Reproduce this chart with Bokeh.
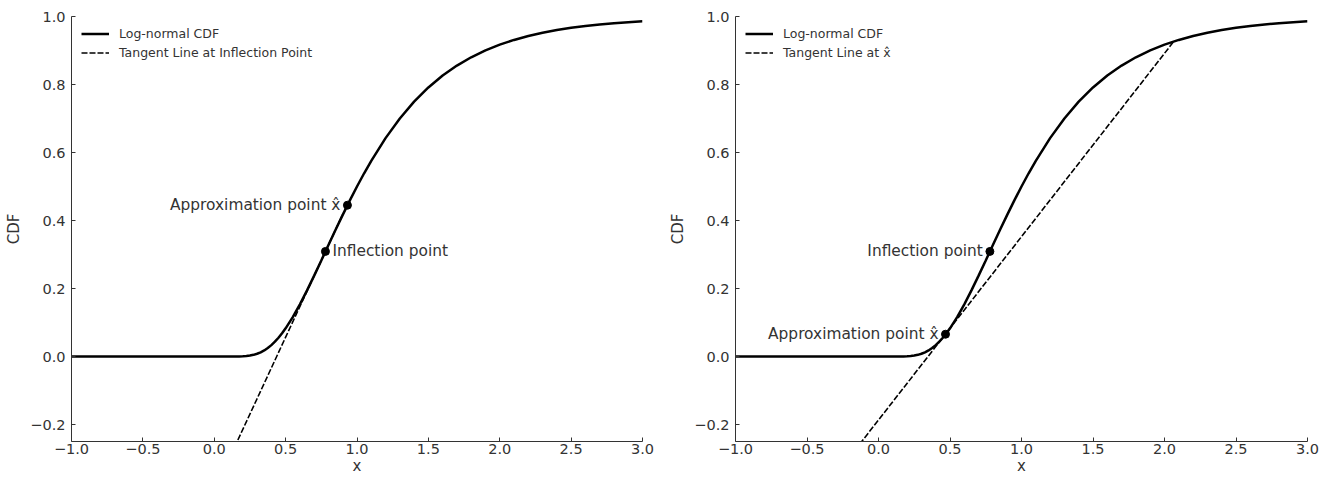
from bokeh.plotting import figure
from bokeh.layouts import row
from bokeh.models import (Legend, LegendItem, Range1d, SingleIntervalTicker,
                          CustomJSTickFormatter)
from bokeh.core.properties import value
from bokeh.embed import file_html
from bokeh.resources import INLINE

# ---- data ----
cdf_x = [-1.0, 0.0, 0.1, 0.15, 0.175, 0.2, 0.225, 0.25, 0.275, 0.3, 0.325, 0.35, 0.375,
         0.4, 0.425, 0.45, 0.475, 0.5, 0.55, 0.6, 0.65, 0.7, 0.75, 0.8, 0.85, 0.9, 0.95,
         1.0, 1.05, 1.1, 1.2, 1.3, 1.4, 1.5, 1.6, 1.7, 1.8, 1.9, 2.0, 2.1, 2.2, 2.3,
         2.4, 2.5, 2.6, 2.7, 2.8, 2.9, 3.0]
cdf_y = [0.0, 0.0, 0.0, 0.00007, 0.00025, 0.00064, 0.00143, 0.00278, 0.00491, 0.00802,
         0.01229, 0.01788, 0.0249, 0.0334, 0.0435, 0.0551, 0.0683, 0.0829, 0.1159, 0.1535,
         0.1944, 0.2379, 0.2826, 0.3278, 0.3726, 0.4166, 0.4591, 0.5, 0.5389, 0.5756,
         0.6423, 0.7001, 0.7495, 0.7913, 0.8264, 0.8557, 0.8801, 0.9004, 0.9172, 0.9311,
         0.9426, 0.9521, 0.9600, 0.9666, 0.9720, 0.9765, 0.9803, 0.9834, 0.9860]

inflection_x = [0.779]
inflection_y = [0.309]

approx_left_x = [0.933]
approx_left_y = [0.445]
approx_right_x = [0.4685]
approx_right_y = [0.0655]

tangent_left_x = [0.0, 0.9]
tangent_left_y = [-0.395, 0.418]
tangent_right_x = [-1.13, 2.06]
tangent_right_y = [-0.796, 0.924]

legend_left = ["Log-normal CDF", "Tangent Line at Inflection Point"]
legend_right = ["Log-normal CDF", "Tangent Line at x\u0302"]
x_label = "x"
y_label = "CDF"

FONT = "DejaVu Sans"
TXT = "#333333"

FMT_JS = "return tick.toFixed(1).replace('-', '\\u2212');"


def make_panel(tan_x, tan_y, ax_, ay_, labels, annotations, min_left, min_right, width):
    p = figure(width=width, height=481, output_backend="svg", toolbar_location=None,
               x_range=Range1d(-1.0, 3.0), y_range=Range1d(-0.25, 1.0),
               min_border_left=min_left, min_border_right=min_right,
               min_border_top=16, min_border_bottom=40)
    p.outline_line_color = None
    p.grid.visible = False
    p.background_fill_color = "white"

    r_cdf = p.line(cdf_x, cdf_y, line_color="black", line_width=2.5)
    r_tan = p.line(tan_x, tan_y, line_color="black", line_width=1.6, line_dash="6 2")
    p.scatter(inflection_x + ax_, inflection_y + ay_, size=8, color="black")

    for (tx, ty, txt, align, off) in annotations:
        p.text(x=[tx], y=[ty], text=[txt], text_align=align, text_baseline="middle",
               x_offset=off, text_font=value(FONT), text_font_size="15.4px", text_color=TXT)

    p.xaxis.ticker = SingleIntervalTicker(interval=0.5)
    p.yaxis.ticker = SingleIntervalTicker(interval=0.2)
    for ax in (p.xaxis[0], p.yaxis[0]):
        ax.formatter = CustomJSTickFormatter(code=FMT_JS)
        ax.major_tick_in = 4
        ax.major_tick_out = 0
        ax.minor_tick_in = 0
        ax.minor_tick_out = 0
        ax.axis_line_color = TXT
        ax.major_tick_line_color = TXT
        ax.axis_line_width = 1
        ax.major_label_text_font = FONT
        ax.major_label_text_font_size = "14.5px"
        ax.major_label_text_color = TXT
        ax.axis_label_text_font = FONT
        ax.axis_label_text_font_size = "15px"
        ax.axis_label_text_font_style = "normal"
        ax.axis_label_text_color = TXT
    p.xaxis.axis_label = x_label
    p.yaxis.axis_label = y_label
    p.xaxis.major_label_standoff = 2
    p.xaxis.axis_label_standoff = 0
    p.yaxis.major_label_standoff = 6
    p.yaxis.axis_label_standoff = 4

    legend = Legend(items=[LegendItem(label=labels[0], renderers=[r_cdf]),
                           LegendItem(label=labels[1], renderers=[r_tan])],
                    location="top_left")
    legend.background_fill_alpha = 0
    legend.border_line_color = None
    legend.margin = 10
    legend.padding = 0
    legend.spacing = 4
    legend.glyph_width = 28
    legend.glyph_height = 15
    legend.label_standoff = 10
    legend.label_text_font = FONT
    legend.label_text_font_size = "12.5px"
    legend.label_text_color = TXT
    legend.label_text_baseline = "middle"
    p.add_layout(legend, "center")
    return p


p1 = make_panel(tangent_left_x, tangent_left_y, approx_left_x, approx_left_y, legend_left,
                [(approx_left_x[0], approx_left_y[0], "Approximation point x\u0302", "right", -7),
                 (inflection_x[0], inflection_y[0], "Inflection point", "left", 7)],
                71, 23, 71 + 571 + 23)
p2 = make_panel(tangent_right_x, tangent_right_y, approx_right_x, approx_right_y, legend_right,
                [(inflection_x[0], inflection_y[0], "Inflection point", "right", -7),
                 (approx_right_x[0], approx_right_y[0], "Approximation point x\u0302", "right", -7)],
                70, 36, 70 + 572 + 36)

layout = row(p1, p2)
open("out.html", "w").write(file_html(layout, INLINE))
